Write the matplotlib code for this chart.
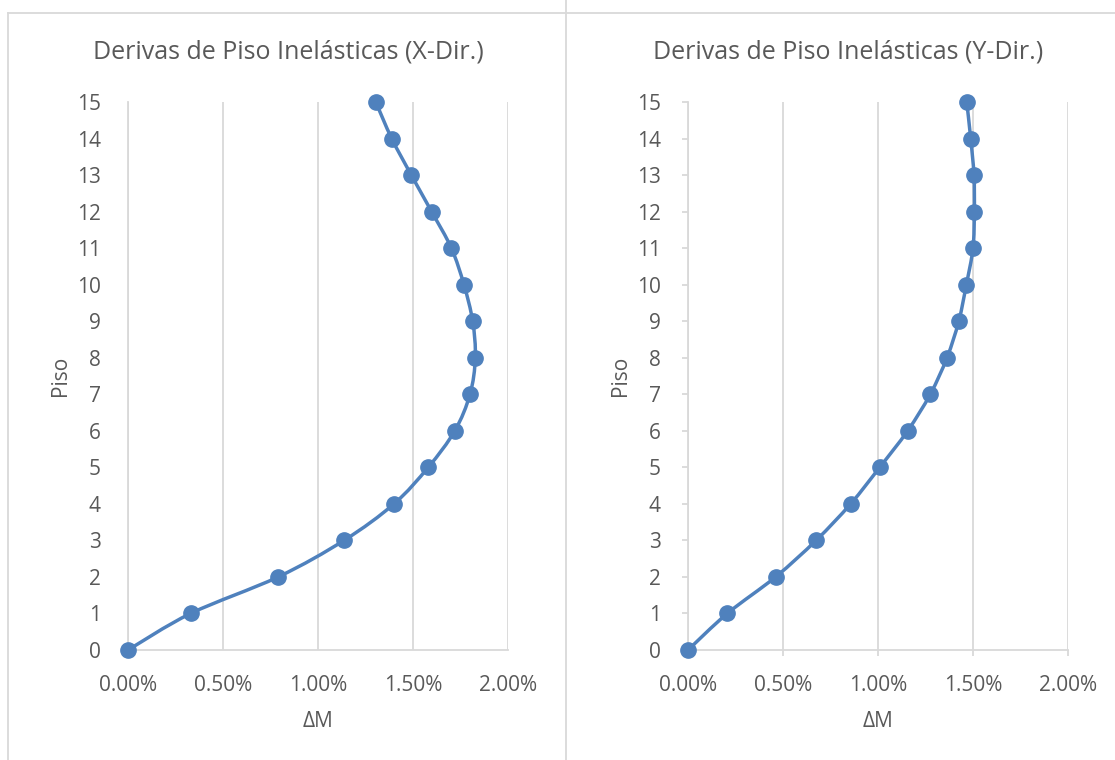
import matplotlib
matplotlib.use("Agg")
import matplotlib.pyplot as plt
from matplotlib.path import Path
from matplotlib.patches import PathPatch
from matplotlib.lines import Line2D
from matplotlib.ticker import FuncFormatter

plt.rcParams['font.family'] = ['Open Sans', 'DejaVu Sans']

# story drifts (fraction) per floor
pisos = list(range(16))
deriva_x = [0.0, 0.0033, 0.0079, 0.01137, 0.0140, 0.0158, 0.0172, 0.0180,
            0.01828, 0.01814, 0.01768, 0.01702, 0.01598, 0.01491, 0.01388, 0.01304]
deriva_y = [0.0, 0.00207, 0.00461, 0.00674, 0.00856, 0.01009, 0.01156, 0.01275,
            0.01363, 0.01425, 0.01465, 0.0150, 0.01507, 0.01505, 0.01488, 0.01467]
titulos = ['Derivas de Piso Inelásticas (X-Dir.)', 'Derivas de Piso Inelásticas (Y-Dir.)']
x_ticks = [0.0, 0.005, 0.01, 0.015, 0.02]

BLUE = '#4F81BD'
TEXT = '#595959'
GRID = '#D9D9D9'
W, H = 1115, 760


def smooth_path(xs, ys):
    # Excel-style smoothed line (Catmull-Rom as cubic Bezier)
    pts = list(zip(xs, ys))
    verts = [pts[0]]
    codes = [Path.MOVETO]
    n = len(pts)
    for i in range(n - 1):
        p0 = pts[i - 1] if i > 0 else pts[i]
        p1 = pts[i]
        p2 = pts[i + 1]
        p3 = pts[i + 2] if i + 2 < n else pts[i + 1]
        c1 = (p1[0] + (p2[0] - p0[0]) / 6, p1[1] + (p2[1] - p0[1]) / 6)
        c2 = (p2[0] - (p3[0] - p1[0]) / 6, p2[1] - (p3[1] - p1[1]) / 6)
        verts += [c1, c2, p2]
        codes += [Path.CURVE4] * 3
    return Path(verts, codes)


fig = plt.figure(figsize=(W / 100, H / 100), dpi=100)

panels = [(128, deriva_x, titulos[0], False), (688, deriva_y, titulos[1], True)]
for left_px, vals, titulo, ticks in panels:
    ax = fig.add_axes([left_px / W, (H - 650) / H, 380 / W, 548 / H])
    ax.set_xlim(0, 0.02)
    ax.set_ylim(0, 15)
    ax.set_xticks(x_ticks)
    ax.set_yticks(pisos)
    ax.xaxis.set_major_formatter(FuncFormatter(lambda v, p: f'{v * 100:.2f}%'))
    ax.grid(axis='x', color=GRID, linewidth=1.3)
    ax.set_axisbelow(True)
    for s in ['top', 'right']:
        ax.spines[s].set_visible(False)
    for s in ['left', 'bottom']:
        ax.spines[s].set_color(GRID)
        ax.spines[s].set_linewidth(1.3)
    tl = 4.3 if ticks else 0
    ax.tick_params(axis='both', colors=GRID, labelcolor=TEXT, labelsize=15,
                   length=tl, width=1.3)
    ax.tick_params(axis='y', pad=19.5 - tl)
    ax.tick_params(axis='x', pad=18 - tl)

    ax.add_patch(PathPatch(smooth_path(vals, pisos), fill=False,
                           edgecolor=BLUE, linewidth=2.5, zorder=3))
    ax.plot(vals, pisos, linestyle='none', marker='o', markersize=11,
            color=BLUE, zorder=4, clip_on=False)

    ax.set_xlabel('ΔM', fontsize=15, color=TEXT, labelpad=11)
    ax.set_ylabel('Piso', fontsize=15, color=TEXT, labelpad=4)
    fig.text((left_px - 40 + 200) / W, 1 - 52 / H, titulo, fontsize=18,
             color=TEXT, ha='center', va='center')

# chart borders
for xs, ys in [([7.5, 7.5], [0, 747]), ([7.5, W], [747, 747]), ([566, 566], [0, 760])]:
    fig.add_artist(Line2D([x / W for x in xs], [y / H for y in ys],
                          color=GRID, linewidth=1.3))

fig.savefig('out.png', dpi=100)
